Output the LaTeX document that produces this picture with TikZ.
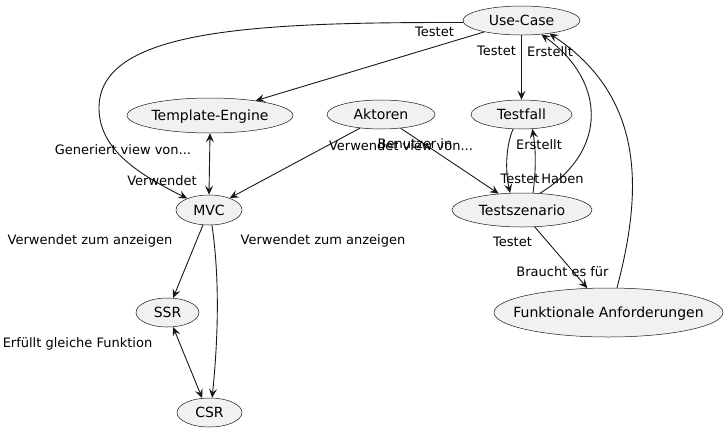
\documentclass[tikz,border=0pt]{standalone}
\usepackage{fontspec}
\setmainfont{DejaVu Sans}
\usetikzlibrary{shapes.geometric,arrows.meta}
\definecolor{lc}{HTML}{181818}
\definecolor{ucfill}{HTML}{F1F1F1}
\begin{document}
\begin{tikzpicture}[x=1pt,y=-1pt,
  ucnode/.style={ellipse, draw=lc, line width=0.5pt, fill=ucfill, inner xsep=-70pt, inner ysep=-12pt,
    font=\fontsize{14}{16}\selectfont, text height=10pt, text depth=0pt},
  lbl/.style={inner sep=0pt, font=\fontsize{13}{15}\selectfont, text height=9.4pt, text depth=0pt},
  conn/.style={draw=lc, line width=0.9pt, -{Stealth[length=9pt,width=8pt,inset=3.5pt]}},
  biconn/.style={draw=lc, line width=0.9pt, {Stealth[length=9pt,width=8pt,inset=3.5pt]}-{Stealth[length=9pt,width=8pt,inset=3.5pt]}}]
\useasboundingbox (0,0) rectangle (728,432);

% use cases
\node[ucnode, minimum width=117pt, minimum height=29pt] (uc)  at (521.5,20.5)  {Use-Case};
\node[ucnode, minimum width=166pt, minimum height=35pt] (te)  at (210,115.5)   {Template-Engine};
\node[ucnode, minimum width=108pt, minimum height=29pt] (ak)  at (381,114.5)   {Aktoren};
\node[ucnode, minimum width=101pt, minimum height=29pt] (tf)  at (521.5,114.5) {Testfall};
\node[ucnode, minimum width=66pt,  minimum height=30pt] (mvc) at (209,210)     {MVC};
\node[ucnode, minimum width=140pt, minimum height=34pt] (ts)  at (522,210)     {Testszenario};
\node[ucnode, minimum width=63pt,  minimum height=29pt] (ssr) at (167.5,312.5) {SSR};
\node[ucnode, minimum width=65pt,  minimum height=29pt] (csr) at (209.5,412.5) {CSR};
\node[ucnode, minimum width=229pt, minimum height=49pt] (fa)  at (608.5,312.5) {Funktionale Anforderungen};

% connectors
\draw[conn] (uc.182) .. controls (250,22) and (99,30) .. (99,108) .. controls (99,150) and (140,175) .. (mvc.152);
\draw[conn] (uc.197) -- (te.18);
\draw[conn] (uc.south) -- (tf.north);
\draw[biconn] (te.south) -- (mvc.north);
\draw[conn] (ak.213) -- (mvc.30);
\draw[conn] (ak.-35) -- (ts.145);
\draw[conn] (tf.240) .. controls (506,145) and (505,170) .. (ts.125);
\draw[conn] (ts.57) .. controls (536,170) and (536,150) .. (tf.-53);
\draw[conn] (ts.43) .. controls (610,150) and (605,80) .. (uc.-35);
\draw[conn] (fa.71) .. controls (640,200) and (650,100) .. (uc.-25);
\draw[conn] (ts.-53) -- (fa.131);
\draw[conn] (mvc.248) -- (ssr.69);
\draw[conn] (mvc.281) .. controls (220,280) and (218,340) .. (csr.80);
\draw[biconn] (ssr.-69) -- (csr.117);

% labels
\node[lbl] (l1)  at (434.5,32)  {Testet};
\node[lbl] (l2)  at (496.5,51)  {Testet};
\node[lbl] (l3)  at (550,52)    {Erstellt};
\node[lbl] (l4)  at (123,150)   {Generiert view von...};
\node[lbl] (l5)  at (162,181)   {Verwendet};
\node[lbl] (l6)  at (90,240)    {Verwendet zum anzeigen};
\node[lbl] (l7)  at (323,240)   {Verwendet zum anzeigen};
\node[lbl] (l8)  at (401,146)   {Verwendet view von...};
\node[lbl] (l9)  at (415,144)   {Benutzer in};
\node[lbl] (l10) at (539,145)   {Erstellt};
\node[lbl] (l11) at (520,179)   {Testet};
\node[lbl] (l12) at (562.5,179) {Haben};
\node[lbl] (l13) at (512.5,242) {Testet};
\node[lbl] (l14) at (562.5,272) {Braucht es für};
\node[lbl] (l15) at (77.5,343)  {Erfüllt gleiche Funktion};
\end{tikzpicture}
\end{document}
